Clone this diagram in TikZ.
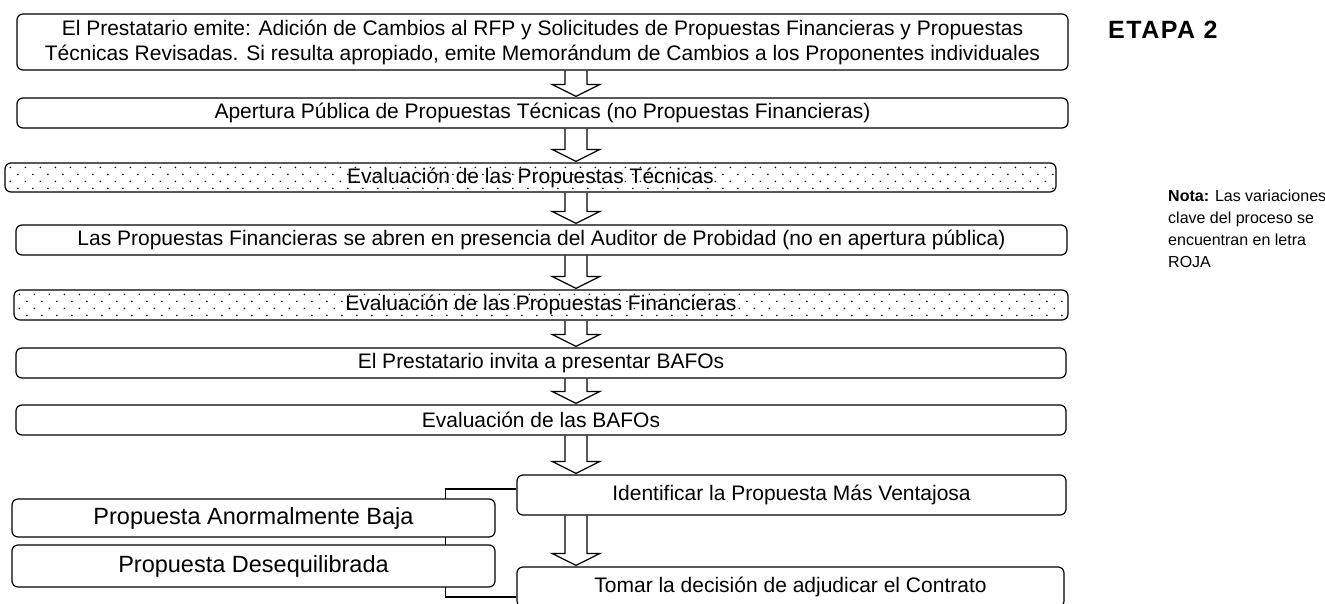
\documentclass[tikz,border=0pt]{standalone}
\usepackage{fontspec}
\setmainfont{Liberation Sans}
\usetikzlibrary{calc}
\pgfdeclarelayer{background}
\pgfsetlayers{background,main}
\tikzset{
  box/.style={draw, rounded corners=6pt, line width=1.2pt, fill=white, inner sep=0pt,
    align=center, font=\fontsize{21}{25}\selectfont},
  sidebox/.style={box, font=\fontsize{23.5}{27}\selectfont},
  dotbox/.style={box, fill=none},
  arr/.style={line width=1.2pt, line join=miter},
  link/.style={line width=1.2pt},
  dotfill/.style={fill=black}
}
\newcommand\blkarrow[2]{\draw[arr] let \p1=(#1.south), \p2=(#2.north) in
  (565pt,\y1) -- (565pt,\y2+13pt) -- (552pt,\y2+13pt) -- (576pt,\y2+1pt)
  -- (600pt,\y2+13pt) -- (587pt,\y2+13pt) -- (587pt,\y1);}
\newcommand\dotpattern[1]{%
  \begin{scope}
  \clip[rounded corners=6pt] (#1.south west) rectangle (#1.north east);
  \foreach \r in {0,...,3}{
    \foreach \c in {0,...,70}{
      \pgfmathsetmacro\dx{\c*15+mod(\r,2)*7.5+6}
      \pgfmathsetmacro\dy{\r*7+5}
      \fill[dotfill] ([shift={(\dx,\dy)}]#1.north west) circle (0.9pt);
    }
  }
  \end{scope}}
\begin{document}
\begin{tikzpicture}[x=1pt,y=-1pt]
\useasboundingbox (0,0) rectangle (1325,603);

\node[box, minimum width=1051pt, minimum height=56pt] (b1) at (542.5,42)
  {El Prestatario emite: Adición de Cambios al RFP y Solicitudes de Propuestas Financieras y Propuestas\\
   Técnicas Revisadas. Si resulta apropiado, emite Memorándum de Cambios a los Proponentes individuales};
\node[box, minimum width=1051pt, minimum height=30pt] (b2) at (542.5,113)
  {Apertura Pública de Propuestas Técnicas (no Propuestas Financieras)};
\node[dotbox, minimum width=1051pt, minimum height=29pt] (b3) at (530.5,177.5)
  {Evaluación de las Propuestas Técnicas};
\node[box, minimum width=1051pt, minimum height=30pt] (b4) at (541.5,240)
  {Las Propuestas Financieras se abren en presencia del Auditor de Probidad (no en apertura pública)};
\node[dotbox, minimum width=1054pt, minimum height=30pt] (b5) at (541,305)
  {Evaluación de las Propuestas Financieras};
\node[box, minimum width=1050pt, minimum height=30pt] (b6) at (541,363)
  {El Prestatario invita a presentar BAFOs};
\node[box, minimum width=1050pt, minimum height=30pt] (b7) at (541,420)
  {Evaluación de las BAFOs};
\node[box, minimum width=549pt, minimum height=40pt] (ident) at (791.5,495)
  {Identificar la Propuesta Más Ventajosa};
\node[box, minimum width=547pt, minimum height=40pt] (tomar) at (790.5,587)
  {Tomar la decisión de adjudicar el Contrato};
\node[sidebox, minimum width=483pt, minimum height=38pt] (baja) at (253.5,518)
  {Propuesta Anormalmente Baja};
\node[sidebox, minimum width=483pt, minimum height=42pt] (deseq) at (253.5,566)
  {Propuesta Desequilibrada};

\begin{pgfonlayer}{background}
  \dotpattern{b3}
  \dotpattern{b5}
  \draw[link] ([yshift=6pt]ident.west) -- ++(-71,0) coordinate (brk) |- ([yshift=-10pt]tomar.west);
\end{pgfonlayer}

\blkarrow{b1}{b2}
\blkarrow{b2}{b3}
\blkarrow{b3}{b4}
\blkarrow{b4}{b5}
\blkarrow{b5}{b6}
\blkarrow{b6}{b7}
\blkarrow{b7}{ident}
\blkarrow{ident}{tomar}

\node[anchor=west, inner sep=0pt, font=\bfseries\fontsize{25}{29}\selectfont\addfontfeature{LetterSpace=6}] (etapa) at (1108,30) {ETAPA 2};
\node[anchor=north west, align=left, inner sep=0pt, font=\fontsize{16}{22}\selectfont] (nota) at (1168,190)
  {\textbf{Nota:} Las variaciones\\clave del proceso se\\encuentran en letra\\ROJA};
\end{tikzpicture}
\end{document}
